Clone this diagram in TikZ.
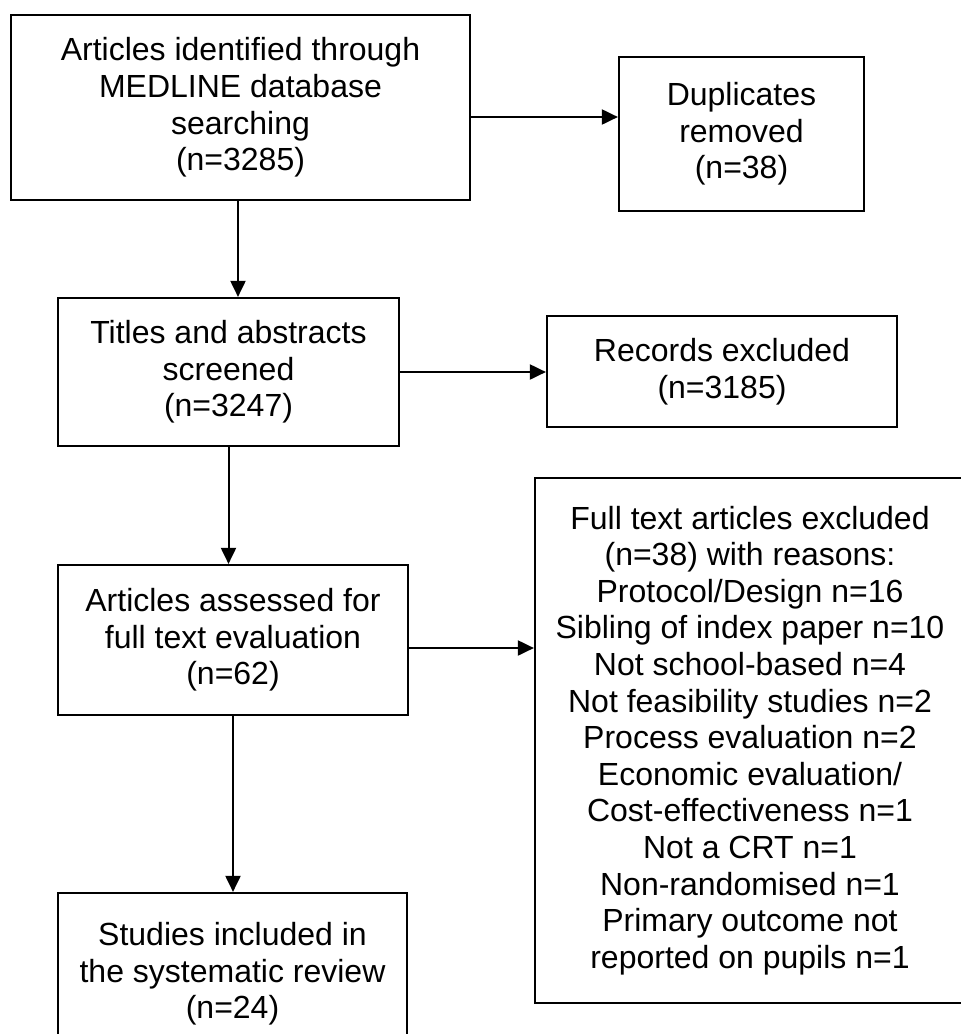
\documentclass[tikz,border=0pt]{standalone}
\usepackage{fontspec}
\setmainfont{Liberation Sans}
\usetikzlibrary{arrows.meta}
\begin{document}
\begin{tikzpicture}[x=1pt,y=-1pt,
  box/.style={draw=black,line width=2.2pt,rectangle,inner sep=0pt,align=center,
    font=\fontsize{32}{36.6}\selectfont},
  arr/.style={line width=2pt,-{Triangle[length=16pt,width=15pt]}}]
\useasboundingbox (0,0) rectangle (961,1034);
\clip (0,0) rectangle (961,1034);
\node[box,minimum width=459pt,minimum height=185pt] (ident) at (240.5,107.5)
  {\raisebox{-4pt}{\parbox{440pt}{\centering Articles identified through\\MEDLINE database\\searching\\(n=3285)}}};
\node[box,minimum width=245pt,minimum height=154pt] (dup) at (741.5,134)
  {Duplicates\\removed\\(n=38)};
\node[box,minimum width=341pt,minimum height=148pt] (screen) at (228.5,372)
  {Titles and abstracts\\screened\\(n=3247)};
\node[box,minimum width=350pt,minimum height=111pt] (recex) at (722,371.5)
  {Records excluded\\(n=3185)};
\node[box,minimum width=350pt,minimum height=150pt] (assess) at (233,640)
  {Articles assessed for\\full text evaluation\\(n=62)};
\node[box,minimum width=430pt,minimum height=525pt] (ftex) at (750,740.5)
  {Full text articles excluded\\(n=38) with reasons:\\Protocol/Design n=16\\Sibling of index paper n=10\\Not school-based n=4\\Not feasibility studies n=2\\Process evaluation n=2\\Economic evaluation/\\Cost-effectiveness n=1\\Not a CRT n=1\\Non-randomised n=1\\Primary outcome not\\reported on pupils n=1};
\node[box,minimum width=349pt,minimum height=162pt] (incl) at (232.5,974)
  {Studies included in\\the systematic review\\(n=24)};
\draw[arr] (ident.east |- 0,117) -- (dup.west |- 0,117);
\draw[arr] (238,0 |- ident.south) -- (238,0 |- screen.north);
\draw[arr] (screen.east) -- (recex.west |- screen.east);
\draw[arr] (screen.south) -- (screen.south |- assess.north);
\draw[arr] (assess.east |- 0,648) -- (ftex.west |- 0,648);
\draw[arr] (assess.south) -- (assess.south |- incl.north);
\end{tikzpicture}
\end{document}
